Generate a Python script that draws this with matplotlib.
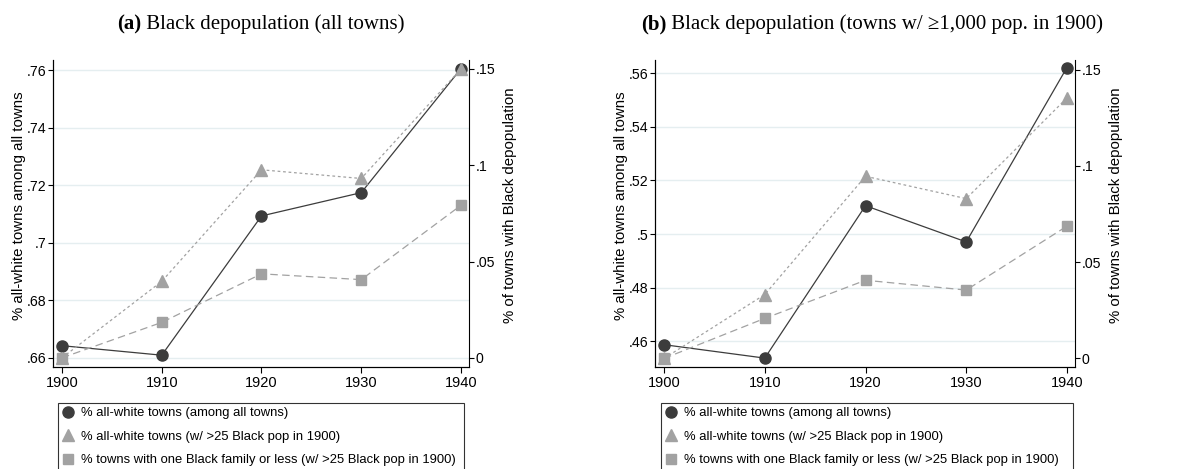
import matplotlib.pyplot as plt
from matplotlib.lines import Line2D
from matplotlib.ticker import FuncFormatter

plt.rcParams['font.family'] = ['Liberation Sans', 'DejaVu Sans']

years = [1900, 1910, 1920, 1930, 1940]

# panel (a): all towns
a_white_all = [0.6642, 0.6609, 0.7093, 0.7174, 0.7605]
a_white_25 = [0.0, 0.0397, 0.0976, 0.0931, 0.1500]
a_one_family = [0.0, 0.0184, 0.0436, 0.0406, 0.0792]

# panel (b): towns with >=1,000 pop in 1900
b_white_all = [0.4588, 0.4538, 0.5106, 0.4971, 0.5621]
b_white_25 = [0.0, 0.0332, 0.0946, 0.0830, 0.1353]
b_one_family = [0.0, 0.0208, 0.0406, 0.0355, 0.0687]

a_left_ticks = [0.66, 0.68, 0.70, 0.72, 0.74, 0.76]
b_left_ticks = [0.46, 0.48, 0.50, 0.52, 0.54, 0.56]
right_ticks = [0, 0.05, 0.1, 0.15]

labels = ['% all-white towns (among all towns)',
          '% all-white towns (w/ >25 Black pop in 1900)',
          '% towns with one Black family or less (w/ >25 Black pop in 1900)']

dark = '#3c3c3c'
light = '#a2a2a2'
grid_col = '#e5eef0'


def stata_fmt(v, pos):
    s = ('%.2f' % v).rstrip('0').rstrip('.')
    if s.startswith('0.'):
        s = s[1:]
    return s


def title(cx, bold, rest):
    # bold "(a)" followed by plain text, centred as one string
    t1 = fig.text(0, 0.948, bold, fontfamily='Liberation Serif',
                  fontweight='bold', fontsize=15, ha='left', va='center')
    t2 = fig.text(0, 0.948, rest, fontfamily='Liberation Serif',
                  fontsize=15, ha='left', va='center')
    r = fig.canvas.get_renderer()
    w1 = t1.get_window_extent(r).width
    w2 = t2.get_window_extent(r).width
    x0 = cx - (w1 + w2) / 2
    t1.set_x(x0 / W)
    t2.set_x((x0 + w1) / W)


def panel(rect, white_all, white_25, one_fam, left_ticks, left_lim,
          right_lim, leg_rect):
    ax = fig.add_axes(rect)
    ax2 = ax.twinx()

    ax.plot(years, white_all, color=dark, lw=0.9, marker='o', ms=8,
            mfc=dark, mec=dark, zorder=3)
    ax2.plot(years, white_25, color=light, lw=0.9, ls=(0, (2.2, 2.2)),
             marker='^', ms=9, mfc=light, mec=light)
    ax2.plot(years, one_fam, color=light, lw=0.9, ls=(0, (6, 3.5)),
             marker='s', ms=7.3, mfc=light, mec=light)

    ax.set_xlim(1899.1, 1940.8)
    ax.set_ylim(*left_lim)
    ax2.set_ylim(*right_lim)
    ax.set_xticks(years)
    ax.set_yticks(left_ticks)
    ax2.set_yticks(right_ticks)
    ax.yaxis.set_major_formatter(FuncFormatter(stata_fmt))
    ax2.yaxis.set_major_formatter(FuncFormatter(stata_fmt))
    ax.grid(axis='y', color=grid_col, lw=1.0)
    ax.set_axisbelow(True)

    for a in (ax, ax2):
        a.spines['top'].set_visible(False)
        a.tick_params(axis='y', labelsize=10.2, length=3.5, width=0.8,
                      color='black', pad=1.2)
    ax.tick_params(axis='x', labelsize=10.5, length=4.5, width=0.8, pad=2.5)
    ax.spines['right'].set_visible(False)

    ax.set_ylabel('% all-white towns among all towns', fontsize=10.8)
    ax2.set_ylabel('% of towns with Black depopulation', fontsize=10.8)
    ax.yaxis.set_label_coords(-0.064, 0.525)
    ax2.yaxis.set_label_coords(1.081, 0.525)

    handles = [Line2D([], [], ls='none', marker='o', ms=8, color=dark),
               Line2D([], [], ls='none', marker='^', ms=9, color=light),
               Line2D([], [], ls='none', marker='s', ms=7.3, color=light)]
    leg = fig.legend(handles, labels, loc='upper left', bbox_to_anchor=leg_rect,
                     mode='expand', fontsize=9.4, frameon=True, fancybox=False,
                     edgecolor='black', handlelength=0.8, handletextpad=0.6,
                     borderpad=0.35, labelspacing=0.86, borderaxespad=0)
    leg.get_frame().set_linewidth(0.8)
    return ax, ax2


fig = plt.figure(figsize=(11.92, 4.69), dpi=100)

W, H = 1192.0, 469.0
rect_a = [53 / W, 1 - 366.7 / H, (469 - 53) / W, (366.7 - 60) / H]
rect_b = [655 / W, 1 - 366.7 / H, (1075 - 655) / W, (366.7 - 60) / H]

panel(rect_a, a_white_all, a_white_25, a_one_family, a_left_ticks,
      (0.6569, 0.7635), (-0.0046, 0.1546),
      (58 / W, 1 - 402.7 / H, (464 - 58) / W, 0.0))

panel(rect_b, b_white_all, b_white_25, b_one_family, b_left_ticks,
      (0.4506, 0.5649), (-0.0043, 0.1550),
      (661 / W, 1 - 402.7 / H, (1073 - 661) / W, 0.0))

title(261, '(a)', ' Black depopulation (all towns)')
title(872, '(b)', ' Black depopulation (towns w/ \u22651,000 pop. in 1900)')

fig.savefig('out.png', dpi=100)
